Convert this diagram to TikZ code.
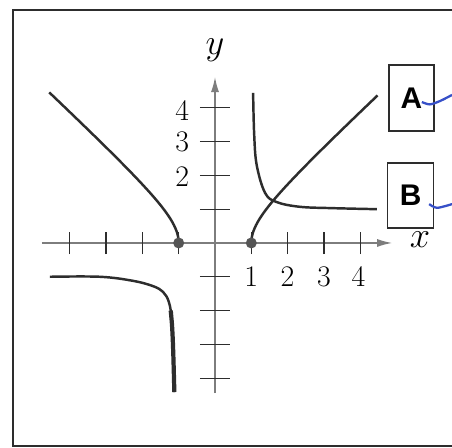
\documentclass[tikz,border=0pt]{standalone}
\usepackage{fontspec}
\setsansfont{Liberation Sans}
\usetikzlibrary{arrows.meta}
\definecolor{Ink}{RGB}{45, 45, 45}
\definecolor{AxisGray}{RGB}{125, 125, 125}
\definecolor{DotGray}{RGB}{85, 85, 85}
\definecolor{Pen}{RGB}{55, 80, 200}

\begin{document}
\begin{tikzpicture}[x=0.726cm, y=0.676cm]

% Page size
\clip (-5.923,-6.065) rectangle (6.529,7.189);
\fill[white] (-5.923,-6.065) rectangle (6.529,7.189);

% Frame
\draw[Ink, line width=1.2pt] (7,6.89) -- (-5.56,6.89) -- (-5.56,-6.0) -- (7,-6.0);

% Axes
\coordinate (Xl) at (-4.77,0);
\coordinate (Xr) at (4.88,0);
\coordinate (Yb) at (0,-4.44);
\coordinate (Yt) at (0,4.91);
\draw[AxisGray, line width=0.8pt, -{Latex[length=3mm,width=1.6mm]}] (Xl) -- (Xr);
\draw[AxisGray, line width=0.8pt, -{Latex[length=3mm,width=1.6mm]}] (Yb) -- (Yt);
\node[font=\fontsize{20}{24}\selectfont] (xlab) at (5.65,0.1) {$x$};
\node[font=\fontsize{20}{24}\selectfont] (ylab) at (0,5.71) {$y$};

% Ticks
\draw[Ink, line width=0.7pt]
  (-4,-0.33) -- (-4,0.33) (-3,-0.33) -- (-3,0.33) (-2,-0.33) -- (-2,0.33) (-1,-0.33) -- (-1,0.33)
  (1,-0.33) -- (1,0.33) (2,-0.33) -- (2,0.33) (3,-0.33) -- (3,0.33) (4,-0.33) -- (4,0.33);
\draw[Ink, line width=0.7pt]
  (-0.42,4) -- (0.4,4) (-0.42,3) -- (0.4,3) (-0.42,2) -- (0.4,2) (-0.42,1) -- (0.4,1)
  (-0.42,-1) -- (0.4,-1) (-0.42,-2) -- (0.4,-2) (-0.42,-3) -- (0.4,-3) (-0.42,-4) -- (0.4,-4);

% Numbers
\node[font=\fontsize{17}{20}\selectfont] (y4) at (-0.9,3.92) {4};
\node[font=\fontsize{17}{20}\selectfont] (y3) at (-0.9,2.99) {3};
\node[font=\fontsize{17}{20}\selectfont] (y2) at (-0.9,1.95) {2};
\node[font=\fontsize{17}{20}\selectfont] (x1) at (1,-0.99) {1};
\node[font=\fontsize{17}{20}\selectfont] (x2) at (2,-0.99) {2};
\node[font=\fontsize{17}{20}\selectfont] (x3) at (3,-0.99) {3};
\node[font=\fontsize{17}{20}\selectfont] (x4) at (3.95,-0.99) {4};

% Curve A (both branches)
\draw[Ink, line width=1.4pt, domain=0:2.2, samples=40, variable=\t]
  plot ({-cosh(\t)}, {sinh(\t)});
\draw[Ink, line width=1.4pt, domain=0:2.18, samples=40, variable=\t]
  plot ({cosh(\t)}, {sinh(\t)});

% Curve B (both branches)
\draw[Ink, line width=1.4pt] plot[smooth, tension=0.6] coordinates
  {(1.05,4.44) (1.08,3.2) (1.15,2.3) (1.38,1.48) (1.7,1.21) (2.34,1.07) (3.25,1.03) (4.46,1.0)};
\draw[Ink, line width=1.4pt] plot[smooth, tension=0.6] coordinates
  {(-4.55,-1.0) (-3.17,-1.0) (-2.26,-1.12) (-1.7,-1.28) (-1.43,-1.45) (-1.27,-1.75)
   (-1.19,-2.28) (-1.15,-3.25) (-1.12,-4.41)};
\draw[Ink, line width=2.4pt] plot[smooth, tension=0.6] coordinates
  {(-1.22,-2.0) (-1.18,-2.5) (-1.15,-3.25) (-1.12,-4.41)};

% End points
\fill[DotGray] (-1,0) circle (0.11cm);
\fill[DotGray] (1,0) circle (0.11cm);

% Answer boxes
\node[draw=Ink, line width=0.9pt, minimum width=0.9cm, minimum height=1.32cm,
  font=\fontsize{17}{20}\selectfont\sffamily\bfseries] (boxA) at (5.41,4.29) {A};
\node[draw=Ink, line width=0.9pt, minimum width=0.92cm, minimum height=1.3cm,
  font=\fontsize{17}{20}\selectfont\sffamily\bfseries] (boxB) at (5.39,1.40) {B};

% Pen marks
\draw[Pen, line width=1.3pt] plot[smooth] coordinates {(5.70,4.17) (5.92,4.10) (6.20,4.20) (6.53,4.38)};
\draw[Pen, line width=1.3pt] plot[smooth] coordinates {(5.90,1.15) (6.12,1.04) (6.53,1.15)};

\end{tikzpicture}
\end{document}
